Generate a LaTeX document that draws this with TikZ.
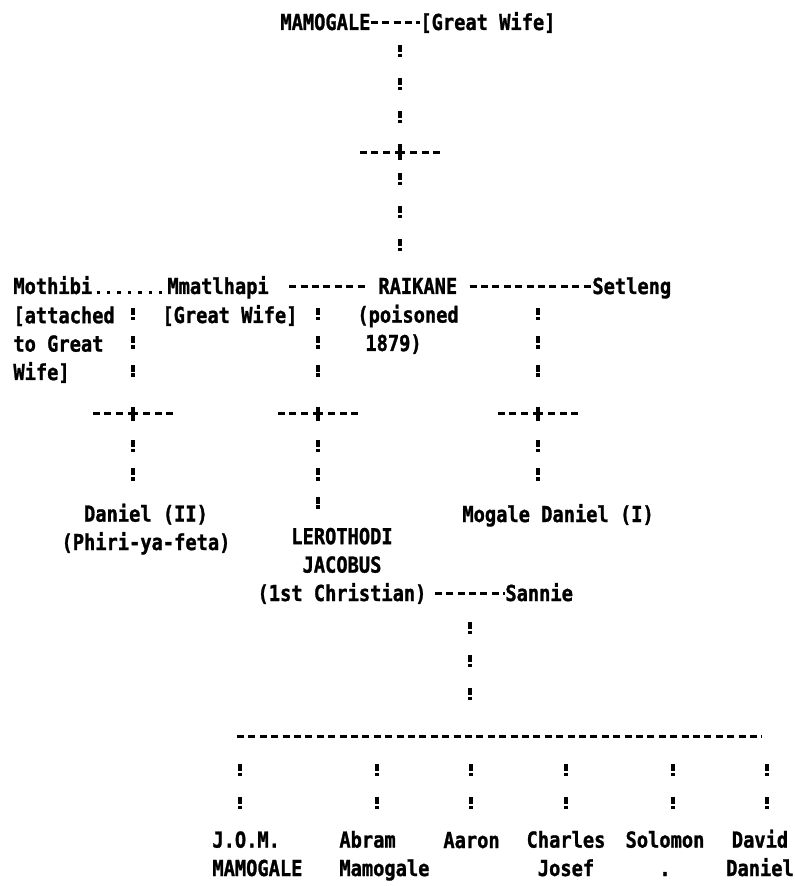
\documentclass[tikz,border=0pt]{standalone}
\usepackage{fontspec}
\newfontfamily\dotmatrix[FakeStretch=0.85,BoldFeatures={FakeBold=1.2}]{DejaVu Sans Mono}
\begin{document}
\begin{tikzpicture}[x=0.5pt,y=-0.5pt,line cap=butt,
	every node/.style={font=\dotmatrix\bfseries\fontsize{11}{14.2}\selectfont,inner sep=0pt},
	person/.style={anchor=base west,text height=9pt,text depth=1.6pt},
	marriage/.style={line width=1.5pt,dash pattern=on 3.5pt off 2.2pt},
	attachline/.style={line width=1.7pt,dash pattern=on 1.7pt off 3.5pt},
	descent/.style={line width=1.9pt,dash pattern=on 3.5pt off 0.8pt on 1.8pt off #1},
	descent/.default=8.1pt]
	\useasboundingbox (0,0) rectangle (795,886);
	\newcommand{\famjoin}[1]{
		\draw[marriage] ([xshift=-20pt]#1) -- ([xshift=-3.5pt]#1);
		\draw[marriage] ([xshift=20pt]#1) -- ([xshift=3.5pt]#1);
		\draw[line width=1.9pt] ([yshift=3.5pt]#1) -- ([yshift=-3.5pt]#1);
		\draw[line width=1.5pt] ([xshift=-2.5pt]#1) -- ([xshift=2.5pt]#1);
	}
	% Generation 1
	\node[person] (mamogale) at (280,30) {MAMOGALE};
	\node[person] (greatwife) at (420,30) {[Great Wife]};
	\draw[marriage] (mamogale.east) -- (greatwife.west);
	\coordinate (m0) at (400,45);
	\coordinate (j0) at (400,153);
	% Generation 2 (multi-line nodes sit on their last baseline)
	\node[person] (mothibi) at (13,294) {Mothibi};
	\node[person] (mmatlhapi) at (167,294) {Mmatlhapi};
	\node[person] (raikane) at (378,294) {RAIKANE};
	\node[person] (setleng) at (592,294) {Setleng};
	\node[anchor=base west,align=left] (mothibinote) at (13,380) {[attached\\to Great\\Wife]};
	\node[person] (greatwife2) at (162,323) {[Great Wife]};
	\node[anchor=base west,align=left] (raikanenote) at (357,351) {(poisoned\\\hspace*{4pt}1879)};
	\draw[descent=10.4pt] (m0) -- (j0);
	\famjoin{j0}
	\draw[descent=10.4pt,shorten >=4pt] ([yshift=-10pt]j0) -- (j0 |- raikane.north);
	\draw[attachline] ([xshift=2pt,yshift=0.8pt]mothibi.base east) -- ([yshift=0.8pt]mmatlhapi.base west);
	\draw[marriage] ([xshift=10pt]mmatlhapi.east) -- ([xshift=-6pt]raikane.west);
	\draw[marriage] ([xshift=6pt]raikane.east) -- (setleng.west);
	\coordinate (m1) at (133,308);
	\coordinate (j1) at (133,414);
	\coordinate (m2) at (318,308);
	\coordinate (j2) at (318,414);
	\coordinate (m3) at (538,308);
	\coordinate (j3) at (538,414);
	% Generation 3
	\node[anchor=base,align=center] (daniel) at (146,550) {Daniel (II)\\(Phiri-ya-feta)};
	\node[anchor=base,align=center] (lerothodi) at (342,601) {LEROTHODI\\JACOBUS\\(1st Christian)};
	\node[person] (mogale) at (462,522) {Mogale Daniel (I)};
	\node[person] (sannie) at (505,601) {Sannie};
	\draw[descent,shorten >=11pt] (m1) -- (j1);
	\draw[descent,shorten >=11pt] (m2) -- (j2);
	\draw[descent,shorten >=11pt] (m3) -- (j3);
	\famjoin{j1}
	\famjoin{j2}
	\famjoin{j3}
	\draw[descent,shorten >=6pt] ([yshift=-13pt]j1) -- (j1 |- daniel.north);
	\draw[descent,shorten >=4pt] ([yshift=-13pt]j2) -- (j2 |- lerothodi.north);
	\draw[descent,shorten >=6pt] ([yshift=-13pt]j3) -- (j3 |- mogale.north);
	\coordinate (ljoin) at (lerothodi.east |- sannie.west);
	\draw[marriage] ([xshift=4pt]ljoin) -- (sannie.west);
	% Generation 4
	\coordinate (m4) at (470,622);
	\coordinate (barl) at (237,736);
	\coordinate (barr) at (762,736);
	\draw[marriage] (barl) -- (barr);
	\draw[descent=10.4pt,shorten >=8pt] (m4) -- (m4 |- barl);
	\node[anchor=base west,align=left] (jom) at (212,876) {J.O.M.\\MAMOGALE};
	\node[anchor=base west,align=left] (abram) at (339,876) {Abram\\Mamogale};
	\node[person] (aaron) at (443,848) {Aaron};
	\node[anchor=base,align=center] (charles) at (566,876) {Charles\\Josef};
	\node[anchor=base,align=center] (solomon) at (665,876) {Solomon\\.};
	\node[anchor=base,align=center] (david) at (760,876) {David\\Daniel};
	\foreach \cx/\kid [count=\i] in {240/jom,377/abram,471/aaron,566/charles,673/solomon,767/david}{
		\coordinate (k\i) at (\cx,764);
		\draw[descent=10.4pt,shorten >=4pt] (k\i) -- (k\i |- \kid.north);
	}
\end{tikzpicture}
\end{document}
